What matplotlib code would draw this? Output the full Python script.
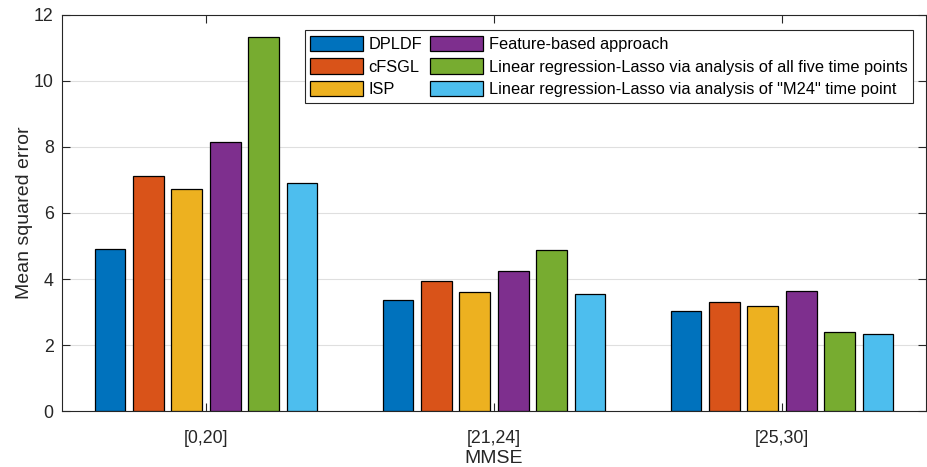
import numpy as np
import matplotlib.pyplot as plt

plt.rcParams['font.family'] = ['Liberation Sans', 'DejaVu Sans']

groups = ['[0,20]', '[21,24]', '[25,30]']
methods = ['DPLDF', 'cFSGL', 'ISP', 'Feature-based approach',
           'Linear regression-Lasso via analysis of all five time points',
           'Linear regression-Lasso via analysis of "M24" time point']
dpldf = [4.91, 3.35, 3.03]
cfsgl = [7.11, 3.94, 3.31]
isp = [6.73, 3.60, 3.18]
feature = [8.14, 4.23, 3.64]
lasso_all = [11.32, 4.87, 2.38]
lasso_m24 = [6.92, 3.54, 2.32]
values = [dpldf, cfsgl, isp, feature, lasso_all, lasso_m24]

colors = ['#0072BD', '#D95319', '#EDB120', '#7E2F8E', '#77AC30', '#4DBEEE']
axcol = '#262626'

fig = plt.figure(figsize=(9.28, 4.67), dpi=100)
ax = fig.add_axes([0.0668, 0.1199, 0.9310, 0.8480])

x = np.arange(1, len(groups) + 1)
n = len(methods)
pitch = 0.8 / n
width = pitch * 0.8
for i in range(n):
    off = (i - (n - 1) / 2) * pitch
    ax.bar(x + off, values[i], width, color=colors[i], edgecolor='black',
           linewidth=0.9, label=methods[i], zorder=3)

ax.set_xlim(0.5, 3.5)
ax.set_ylim(0, 12)
ax.set_xticks(x)
ax.set_xticklabels(groups)
ax.set_yticks(np.arange(0, 13, 2))
ax.yaxis.grid(True, color='#dfdfdf', linewidth=0.8)
ax.set_axisbelow(True)

ax.tick_params(axis='both', direction='in', length=6, width=0.8, colors=axcol,
               labelsize=12.8, top=True, right=True, labelcolor=axcol)
ax.tick_params(axis='x', pad=14)
ax.tick_params(axis='y', pad=6)
for s in ax.spines.values():
    s.set_color(axcol)
    s.set_linewidth(0.8)

ax.set_xlabel('MMSE', fontsize=14, color=axcol, labelpad=2)
ax.set_ylabel('Mean squared error', fontsize=14, color=axcol, labelpad=0.5)

leg = ax.legend(ncol=2, loc='upper right', bbox_to_anchor=(0.984, 0.936),
                bbox_transform=fig.transFigure, borderaxespad=0,
                fontsize=11.8, fancybox=False, framealpha=1, edgecolor=axcol,
                handlelength=3.2, handleheight=1.05, labelspacing=0.4,
                handletextpad=0.35, columnspacing=0.5, borderpad=0.35)
leg.get_frame().set_linewidth(0.8)

fig.savefig('out.png', dpi=100)
